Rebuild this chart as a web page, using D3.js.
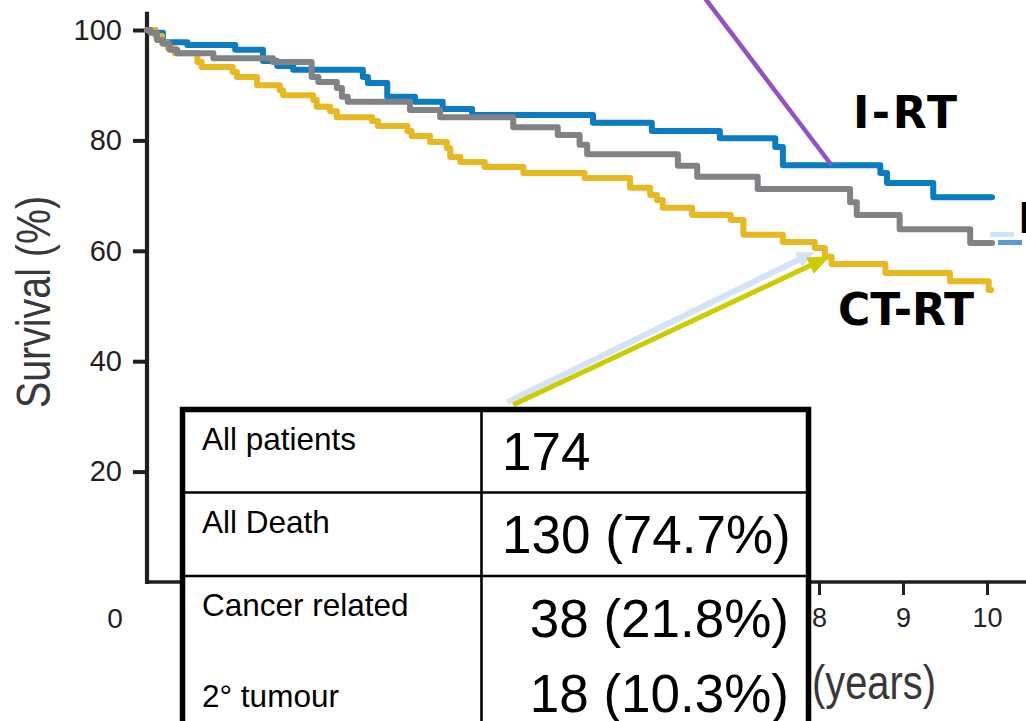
<!DOCTYPE html>
<html>
<head>
<meta charset="utf-8">
<script src="https://cdn.jsdelivr.net/npm/d3@7"></script>
<style>
  html, body { margin: 0; padding: 0; background: #ffffff; }
  svg { display: block; }
</style>
</head>
<body>
<svg id="chart" width="1026" height="721"></svg>
<script>
// Kaplan-Meier survival by treatment arm (years, % surviving)
const iRtTimes = [0, 0.10, 0.19, 0.48, 1.05, 1.38, 1.55, 1.74, 2.57, 2.63, 2.86, 3.19, 3.52, 3.87, 5.31, 6.01, 6.82, 7.48, 7.57, 8.73, 8.81, 9.36, 10.06];
const iRtSurv  = [100, 99.5, 97.8, 97.3, 96.4, 94.4, 93.5, 92.8, 91.5, 90.4, 87.9, 87.0, 85.7, 84.6, 83.2, 81.7, 80.4, 78.8, 75.5, 74.1, 72.3, 69.7, 69.7];

const rtTimes = [0, 0.04, 0.12, 0.19, 0.27, 0.36, 0.79, 1.50, 1.96, 2.04, 2.26, 2.32, 2.39, 3.13, 3.49, 4.36, 4.89, 5.15, 5.24, 6.32, 6.55, 7.27, 8.37, 8.45, 8.96, 9.80, 10.06];
const rtSurv  = [100, 99.5, 98.2, 97.5, 96.4, 95.8, 94.9, 94.2, 91.5, 90.6, 89.5, 87.9, 87.0, 85.5, 84.2, 82.4, 81.0, 79.2, 77.5, 75.4, 73.4, 71.2, 68.8, 66.5, 63.9, 61.4, 61.4];

const ctRtTimes = [0, 0.10, 0.18, 0.25, 0.33, 0.60, 0.65, 1.02, 1.07, 1.31, 1.58, 1.62, 1.98, 2.02, 2.18, 2.26, 2.68, 2.75, 3.10, 3.15, 3.37, 3.57, 3.61, 3.73, 4.02, 4.48, 5.21, 5.75, 5.99, 6.07, 6.14, 6.49, 6.95, 7.10, 7.57, 7.95, 8.07, 8.15, 8.79, 9.56, 10.02, 10.05];
const ctRtSurv  = [100, 98.9, 97.6, 96.7, 95.8, 94.2, 93.3, 92.4, 91.5, 90.0, 89.1, 88.2, 87.3, 86.1, 85.3, 84.2, 83.5, 82.6, 81.7, 80.8, 79.7, 78.6, 77.0, 76.1, 75.2, 74.1, 73.2, 71.4, 70.1, 69.2, 67.8, 66.5, 65.6, 62.9, 61.6, 60.5, 58.9, 57.6, 56.0, 54.5, 52.9, 52.9];

const yTickValues = [20, 40, 60, 80, 100];
const xTickValues = [8, 9, 10];

// Event summary table
const tableLabels = ["All patients", "All Death", "Cancer related", "2\u00B0 tumour"];
const tableValues = ["174", "130 (74.7%)", "38 (21.8%)", "18 (10.3%)"];

const armColors = { iRt: "#0a7cc2", rt: "#808285", ctRt: "#e8b821" };
const ink = "#231f20";

const svg = d3.select("#chart");
const W = 1026, H = 721;
svg.append("rect").attr("width", W).attr("height", H).attr("fill", "#ffffff");

const x = d3.scaleLinear().domain([0, 10]).range([147, 987]);
const y = d3.scaleLinear().domain([0, 100]).range([582, 30]);

// ---- axes ----
const yAxis = svg.append("g")
  .attr("transform", `translate(${x(0)},0)`)
  .call(d3.axisLeft(y).tickValues(yTickValues).tickSize(14).tickPadding(11).tickSizeOuter(0));
yAxis.select(".domain").remove();
yAxis.selectAll(".tick line").attr("stroke", ink).attr("stroke-width", 4);
yAxis.selectAll(".tick text")
  .attr("fill", ink)
  .style("font-family", "'Liberation Sans', Arial, sans-serif")
  .style("font-size", "29px");
svg.append("line")
  .attr("x1", x(0)).attr("x2", x(0))
  .attr("y1", y(0) + 2).attr("y2", y(103.3))
  .attr("stroke", ink).attr("stroke-width", 4.2);

const xAxis = svg.append("g")
  .attr("transform", `translate(0,${y(0)})`)
  .call(d3.axisBottom(x).tickValues(xTickValues).tickSize(13).tickPadding(13).tickSizeOuter(0));
xAxis.select(".domain").remove();
xAxis.selectAll(".tick line").attr("stroke", ink).attr("stroke-width", 3);
xAxis.selectAll(".tick text")
  .attr("fill", ink)
  .style("font-family", "'Liberation Sans', Arial, sans-serif")
  .style("font-size", "27px");
svg.append("line")
  .attr("x1", x(0) - 2).attr("x2", W)
  .attr("y1", y(0)).attr("y2", y(0))
  .attr("stroke", ink).attr("stroke-width", 3.6);

// origin label
svg.append("text")
  .attr("x", x(0) - 32).attr("y", y(0) + 46)
  .attr("text-anchor", "middle")
  .attr("fill", ink)
  .style("font-family", "'Liberation Sans', Arial, sans-serif")
  .style("font-size", "28px")
  .text("0");

// axis titles
svg.append("text")
  .attr("transform", "translate(50,302) rotate(-90) scale(0.82,1)")
  .attr("text-anchor", "middle")
  .attr("fill", "#38383a")
  .style("font-family", "'Liberation Sans', Arial, sans-serif")
  .style("font-size", "48px")
  .text("Survival (%)");

svg.append("text")
  .attr("transform", "translate(812,699) scale(0.83,1)")
  .attr("fill", "#38383a")
  .style("font-family", "'Liberation Sans', Arial, sans-serif")
  .style("font-size", "48px")
  .text("(years)");

// ---- survival curves ----
const step = d3.line()
  .x(d => x(d[0]))
  .y(d => y(d[1]))
  .curve(d3.curveStepAfter);

const arms = [
  { key: "iRt",  t: iRtTimes,  s: iRtSurv },
  { key: "ctRt", t: ctRtTimes, s: ctRtSurv },
  { key: "rt",   t: rtTimes,   s: rtSurv }
];
arms.forEach(a => {
  svg.append("path")
    .datum(d3.zip(a.t, a.s))
    .attr("d", step)
    .attr("fill", "none")
    .attr("stroke", armColors[a.key])
    .attr("stroke-width", 6)
    .attr("stroke-linejoin", "round")
    .attr("stroke-linecap", "round");
});

// ---- annotations ----
const bold = "'DejaVu Sans', Verdana, sans-serif";

// pointer to I-RT curve
svg.append("line")
  .attr("x1", x(6.65)).attr("y1", y(105.6))
  .attr("x2", x(8.15)).attr("y2", y(75.5))
  .attr("stroke", "#9351c5").attr("stroke-width", 4.5);

function arrow(t0, s0, t1, s1, color, width, headLen, headHalf) {
  const ax = x(t0), ay = y(s0), bx = x(t1), by = y(s1);
  const ang = Math.atan2(by - ay, bx - ax);
  const cx = bx - headLen * Math.cos(ang), cy = by - headLen * Math.sin(ang);
  svg.append("line")
    .attr("x1", ax).attr("y1", ay).attr("x2", cx + 2 * Math.cos(ang)).attr("y2", cy + 2 * Math.sin(ang))
    .attr("stroke", color).attr("stroke-width", width);
  const nx = -Math.sin(ang), ny = Math.cos(ang);
  svg.append("polygon")
    .attr("points", [[bx, by], [cx + nx * headHalf, cy + ny * headHalf], [cx - nx * headHalf, cy - ny * headHalf]].map(p => p.join(",")).join(" "))
    .attr("fill", color);
}
arrow(4.29, 32.6, 7.95, 59.8, "#d3e3f8", 6, 18, 8);
arrow(4.36, 32.1, 8.13, 59.0, "#cccc00", 5, 22, 9);

svg.append("text")
  .attr("x", 853).attr("y", 128)
  .attr("fill", "#000")
  .style("font-family", bold).style("font-weight", "bold").style("font-size", "44px")
  .style("letter-spacing", "2.5px")
  .text("I-RT");

svg.append("text")
  .attr("x", 838).attr("y", 325)
  .attr("fill", "#000")
  .style("font-family", bold).style("font-weight", "bold").style("font-size", "44px")
  .text("CT-RT");

svg.append("text")
  .attr("x", 1018).attr("y", 233)
  .attr("fill", "#000")
  .style("font-family", bold).style("font-weight", "bold").style("font-size", "42px")
  .text("RT");

svg.append("rect").attr("x", 990).attr("y", 232).attr("width", 24).attr("height", 5).attr("fill", "#d0e2f8");
svg.append("rect").attr("x", 998).attr("y", 240).attr("width", 24).attr("height", 5).attr("fill", "#5b9bd5");

// ---- summary table ----
const tbl = svg.append("g");
const tL = 182.5, tT = 409.5, tR = 808.5, colX = 481.5;
const rowLines = [492.5, 576];
tbl.append("rect")
  .attr("x", tL).attr("y", tT).attr("width", tR - tL).attr("height", 420)
  .attr("fill", "#ffffff").attr("stroke", "#000").attr("stroke-width", 5.5);
tbl.append("line")
  .attr("x1", colX).attr("x2", colX).attr("y1", tT).attr("y2", H + 10)
  .attr("stroke", "#000").attr("stroke-width", 2.6);
rowLines.forEach(ry => {
  tbl.append("line")
    .attr("x1", tL).attr("x2", tR).attr("y1", ry).attr("y2", ry)
    .attr("stroke", "#000").attr("stroke-width", 2.4);
});

const labelBaselines = [450, 533, 616, 707];
const valueBaselines = [470, 553, 637, 712];
tbl.selectAll("text.lab")
  .data(tableLabels)
  .join("text")
  .attr("class", "lab")
  .attr("x", 202).attr("y", (d, i) => labelBaselines[i])
  .attr("fill", "#000")
  .style("font-family", "'Liberation Sans', Arial, sans-serif")
  .style("font-size", "31.5px")
  .text(d => d);

tbl.selectAll("text.val")
  .data(tableValues)
  .join("text")
  .attr("class", "val")
  .attr("x", (d, i) => i < 2 ? 502 : 789)
  .attr("text-anchor", (d, i) => i < 2 ? "start" : "end")
  .attr("y", (d, i) => valueBaselines[i])
  .attr("fill", "#000")
  .style("font-family", "'Liberation Sans', Arial, sans-serif")
  .style("font-size", "53px")
  .text(d => d);
</script>
</body>
</html>
